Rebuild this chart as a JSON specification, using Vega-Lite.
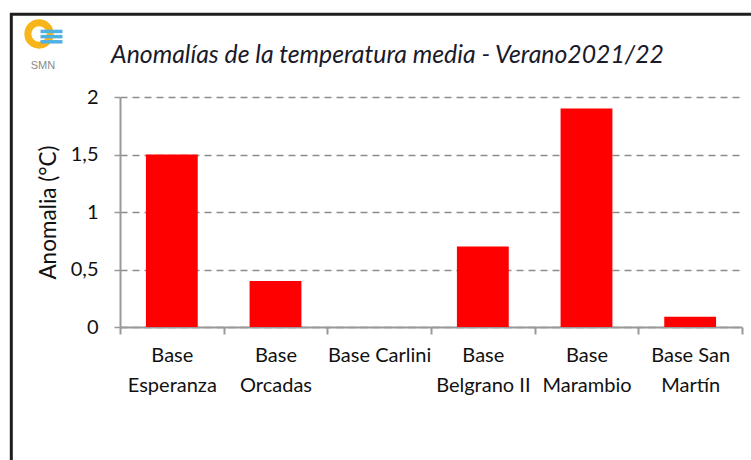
{
  "$schema": "https://vega.github.io/schema/vega-lite/v6.json",
  "width": 622,
  "height": 230,
  "autosize": {"type": "none"},
  "padding": {"left": 120, "top": 97, "right": 9, "bottom": 133},
  "background": "white",
  "config": {"view": {"stroke": null}, "font": "Lato"},
  "title": {
    "text": "Anomalías de la temperatura media - Verano2021/22",
    "anchor": "start",
    "frame": "group",
    "dx": -9,
    "offset": -59,
    "font": "Lato",
    "fontSize": 24.8,
    "fontStyle": "italic",
    "fontWeight": "normal",
    "color": "#1a1a2a"
  },
  "layer": [
    {
      "data": {
        "values": [
          {"Estacion": "Base Esperanza", "Anomalia": 1.5},
          {"Estacion": "Base Orcadas", "Anomalia": 0.4},
          {"Estacion": "Base Carlini", "Anomalia": 0},
          {"Estacion": "Base Belgrano II", "Anomalia": 0.7},
          {"Estacion": "Base Marambio", "Anomalia": 1.9},
          {"Estacion": "Base San Martín", "Anomalia": 0.09}
        ]
      },
      "mark": {"type": "bar", "color": "#FF0000", "width": {"band": 0.5}},
      "encoding": {
        "x": {
          "field": "Estacion",
          "type": "nominal",
          "sort": null,
          "scale": {"paddingInner": 0, "paddingOuter": 0},
          "axis": {
            "title": null,
            "labelAngle": 0,
            "tickBand": "extent",
            "tickSize": 7,
            "tickColor": "#999999",
            "tickWidth": 2,
            "domainColor": "#999999",
            "domainWidth": 2,
            "labelFont": "Lato",
            "labelFontSize": 20,
            "labelColor": "#111111",
            "labelPadding": 11,
            "labelLineHeight": 30,
            "labelLimit": 0,
            "labelOverlap": false,
            "labelExpr": "datum.label == '' ? '' : datum.label == 'Base Carlini' ? datum.label : datum.label == 'Base San Martín' ? ['Base San', 'Martín'] : ['Base', substring(datum.label, 5)]"
          }
        },
        "y": {
          "field": "Anomalia",
          "type": "quantitative",
          "scale": {"domain": [0, 2], "nice": false},
          "axis": {
            "title": "Anomalia (°C)",
            "values": [0, 0.5, 1, 1.5, 2],
            "labelExpr": "replace(toString(datum.value), '.', ',')",
            "tickSize": 6,
            "tickColor": "#999999",
            "tickWidth": 1.5,
            "domainColor": "#999999",
            "domainWidth": 2,
            "labelFont": "Lato",
            "labelFontSize": 20,
            "labelColor": "#111111",
            "labelPadding": 16,
            "titleFont": "Lato",
            "titleFontSize": 22.5,
            "titleFontWeight": "normal",
            "titleColor": "#111111",
            "titlePadding": 10,
            "grid": true,
            "gridColor": "#8c8c8c",
            "gridDash": [7, 5],
            "gridWidth": 1.5
          }
        }
      }
    },
    {
      "data": {"values": [{"item": "frame"}]},
      "mark": {"type": "rect", "fill": null, "stroke": "#1e1e1e", "strokeWidth": 3},
      "encoding": {
        "x": {"datum": -1.0485, "type": "quantitative", "scale": {"domain": [0, 6], "nice": false, "zero": false}, "axis": null},
        "x2": {"datum": 6.3},
        "y": {"datum": 2.719, "type": "quantitative", "scale": {"domain": [0, 2], "nice": false, "zero": false}, "axis": null},
        "y2": {"datum": -1.5}
      }
    },
    {
      "data": {"values": [{"item": "logo ring"}]},
      "mark": {"type": "point", "shape": "circle", "filled": false, "stroke": "#F7B519", "strokeWidth": 7, "size": 500, "opacity": 1},
      "encoding": {
        "x": {"datum": -0.781, "type": "quantitative", "scale": {"domain": [0, 6], "nice": false, "zero": false}, "axis": null},
        "y": {"datum": 2.548, "type": "quantitative", "scale": {"domain": [0, 2], "nice": false, "zero": false}, "axis": null}
      }
    },
    {
      "data": {"values": [{"item": "logo wave 1"}]},
      "mark": {"type": "point", "shape": "stroke", "stroke": "#4FB0E3", "strokeWidth": 3.5, "size": 480, "opacity": 1},
      "encoding": {
        "x": {"datum": -0.661, "type": "quantitative", "scale": {"domain": [0, 6], "nice": false, "zero": false}, "axis": null},
        "y": {"datum": 2.57, "type": "quantitative", "scale": {"domain": [0, 2], "nice": false, "zero": false}, "axis": null}
      }
    },
    {
      "data": {"values": [{"item": "logo wave 2"}]},
      "mark": {"type": "point", "shape": "stroke", "stroke": "#4FB0E3", "strokeWidth": 3.5, "size": 480, "opacity": 1},
      "encoding": {
        "x": {"datum": -0.661, "type": "quantitative", "scale": {"domain": [0, 6], "nice": false, "zero": false}, "axis": null},
        "y": {"datum": 2.525, "type": "quantitative", "scale": {"domain": [0, 2], "nice": false, "zero": false}, "axis": null}
      }
    },
    {
      "data": {"values": [{"item": "logo wave 3"}]},
      "mark": {"type": "point", "shape": "stroke", "stroke": "#4FB0E3", "strokeWidth": 3.5, "size": 480, "opacity": 1},
      "encoding": {
        "x": {"datum": -0.661, "type": "quantitative", "scale": {"domain": [0, 6], "nice": false, "zero": false}, "axis": null},
        "y": {"datum": 2.48, "type": "quantitative", "scale": {"domain": [0, 2], "nice": false, "zero": false}, "axis": null}
      }
    },
    {
      "data": {"values": [{"label": "SMN"}]},
      "mark": {"type": "text", "font": "Liberation Sans", "fontSize": 11, "color": "#8a8a8a", "align": "center", "baseline": "middle"},
      "encoding": {
        "x": {"datum": -0.743, "type": "quantitative", "scale": {"domain": [0, 6], "nice": false, "zero": false}, "axis": null},
        "y": {"datum": 2.27, "type": "quantitative", "scale": {"domain": [0, 2], "nice": false, "zero": false}, "axis": null},
        "text": {"field": "label"}
      }
    }
  ],
  "resolve": {"scale": {"x": "independent", "y": "independent"}}
}
